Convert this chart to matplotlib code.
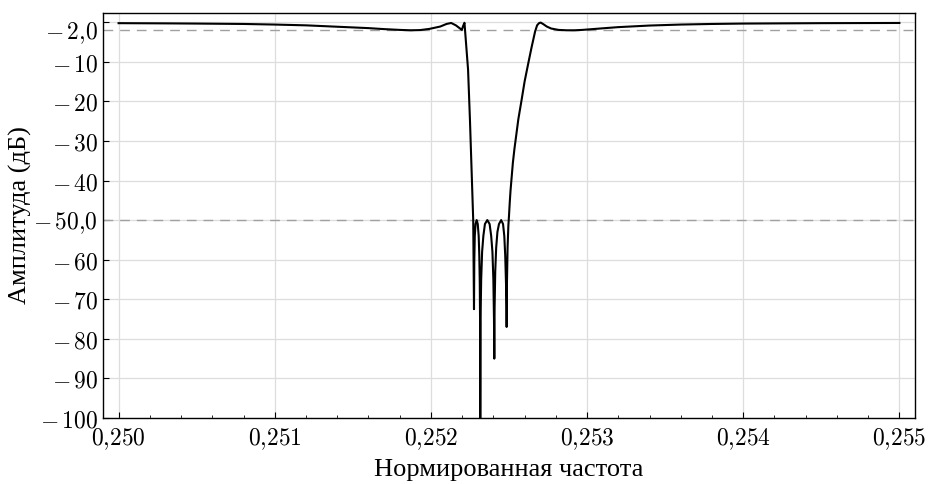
import numpy as np
import matplotlib
matplotlib.use("Agg")
import matplotlib.pyplot as plt
from matplotlib.ticker import FixedLocator, FixedFormatter, MultipleLocator

plt.rcParams['mathtext.fontset'] = 'cm'

# АЧХ режекторного фильтра
freq = [
    0.25000, 0.25030, 0.25050, 0.25080, 0.25100, 0.25120, 0.25140, 0.25160,
    0.25170, 0.25180, 0.25187, 0.25193, 0.25199, 0.25206, 0.25210, 0.25213,
    0.25216, 0.25219, 0.252198, 0.252206, 0.252215, 0.252238, 0.252250,
    0.252271, 0.252276,
    0.252278, 0.252281, 0.252286, 0.252293, 0.252300, 0.252306, 0.252310,
    0.252313, 0.252315, 0.252316,
    0.252318, 0.252322, 0.252328, 0.252336, 0.252346, 0.252361, 0.252376,
    0.252386, 0.252394, 0.252400, 0.252404, 0.252406,
    0.252408, 0.252412, 0.252418, 0.252426, 0.252436, 0.252450, 0.252462,
    0.252470, 0.252476, 0.252481, 0.252484, 0.252485,
    0.252487, 0.252491, 0.252496, 0.252500, 0.252505, 0.252510, 0.252516,
    0.252525, 0.252535, 0.252543, 0.252560, 0.252581, 0.252600, 0.252624,
    0.252645, 0.252667, 0.252680, 0.252692, 0.252703, 0.252720, 0.252742,
    0.252770, 0.252817, 0.252870, 0.252920, 0.252970, 0.25310, 0.25320,
    0.25340, 0.25360, 0.25380, 0.25400, 0.25450, 0.25500,
]
amp_db = [
    -0.25, -0.3, -0.35, -0.45, -0.6, -0.8, -1.15, -1.5,
    -1.75, -1.95, -2.05, -2.0, -1.7, -1.1, -0.45, -0.2,
    -0.8, -1.7, -1.95, -1.0, -0.15, -12.0, -24.6,
    -50.0, -72.5,
    -60.0, -54.0, -51.0, -50.0, -51.0, -54.0, -59.0,
    -66.0, -76.0, -110.0,
    -75.0, -65.0, -58.0, -54.0, -51.0, -50.0, -51.0,
    -54.0, -58.0, -65.0, -75.0, -85.0,
    -72.0, -63.0, -57.0, -53.0, -51.0, -50.0, -51.0,
    -54.0, -59.0, -66.0, -72.0, -77.0,
    -66.0, -57.0, -51.5, -49.0, -45.5, -42.5, -39.7,
    -35.5, -32.0, -29.6, -24.5, -19.6, -15.0, -10.3,
    -6.3, -2.4, -0.8, -0.25, -0.1, -0.5, -1.1,
    -1.6, -1.95, -2.05, -2.05, -1.95, -1.55, -1.25,
    -0.85, -0.6, -0.45, -0.35, -0.25, -0.2,
]

pass_level = -2.0
stop_level = -50.0

x_major = [0.250, 0.251, 0.252, 0.253, 0.254, 0.255]
x_labels = ["$0{,}250$", "$0{,}251$", "$0{,}252$", "$0{,}253$", "$0{,}254$", "$0{,}255$"]
y_major = [0, -10, -20, -30, -40, -50, -60, -70, -80, -90, -100]
y_labels = ["", r"$-\,10$", r"$-\,20$", r"$-\,30$", r"$-\,40$", r"$-\,50{,}0$",
            r"$-\,60$", r"$-\,70$", r"$-\,80$", r"$-\,90$", r"$-\,100$"]

fig = plt.figure(figsize=(9.31, 4.84), dpi=100)
ax = fig.add_axes([0.1106, 0.1364, 0.8722, 0.8374])

ax.plot(freq, amp_db, color='black', lw=1.5, zorder=3)
ax.axhline(pass_level, color='#a0a0a0', lw=1.0, ls=(0, (7, 5)), zorder=2)
ax.axhline(stop_level, color='#a0a0a0', lw=1.0, ls=(0, (7, 5)), zorder=2)

ax.set_xlim(0.2499, 0.2551)
ax.set_ylim(-100, 2.4)

ax.xaxis.set_major_locator(FixedLocator(x_major))
ax.xaxis.set_major_formatter(FixedFormatter(x_labels))
ax.xaxis.set_minor_locator(MultipleLocator(0.0002))
ax.yaxis.set_major_locator(FixedLocator(y_major))
ax.yaxis.set_major_formatter(FixedFormatter(y_labels))
ax.yaxis.set_minor_locator(FixedLocator([pass_level]))
ax.yaxis.set_minor_formatter(FixedFormatter([r"$-\,2{,}0$"]))

ax.tick_params(which='both', direction='in', labelsize=17, color='black')
ax.tick_params(which='major', length=4, width=0.8)
ax.tick_params(which='minor', length=2.5, width=0.6)
ax.tick_params(axis='y', which='minor', length=0, labelsize=17)
ax.tick_params(axis='x', pad=6)

ax.grid(True, which='major', color='#dddddd', lw=0.9, zorder=0)
for sp in ax.spines.values():
    sp.set_linewidth(1.0)

ax.set_xlabel("Нормированная частота", family=['Liberation Serif', 'DejaVu Serif'],
              fontsize=19, labelpad=5)
ax.set_ylabel("Амплитуда (дБ)", family=['Liberation Serif', 'DejaVu Serif'],
              fontsize=19, labelpad=1)

fig.savefig("out.png", dpi=100)
